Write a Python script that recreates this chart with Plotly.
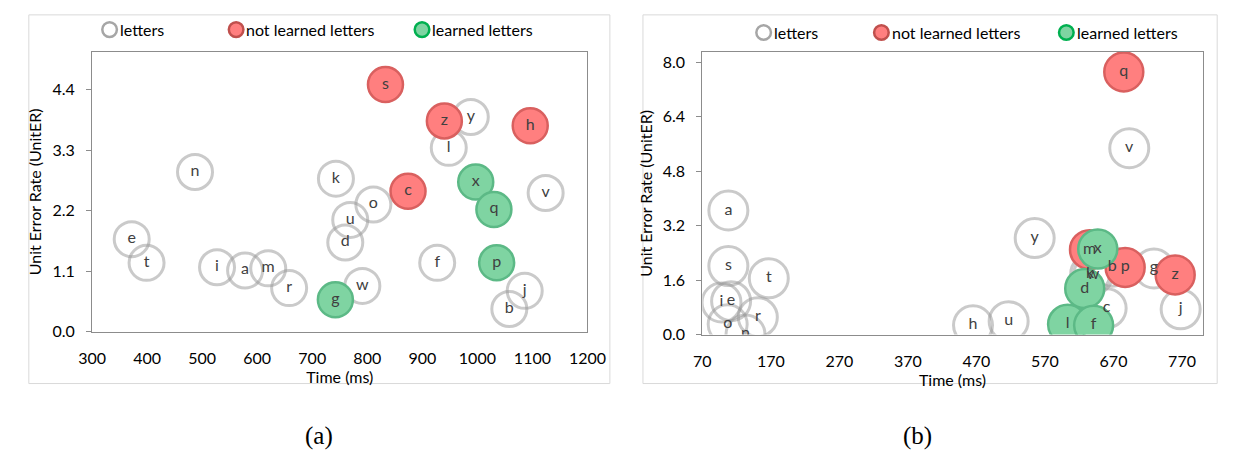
import plotly.graph_objects as go

W, H = 1235, 462

# ---------------- data: chart (a) ----------------
a_letters = ["y", "l", "n", "k", "v", "o", "u", "d", "e", "t", "i", "a", "m", "f", "r", "w", "j", "b"]
a_letters_x = [988, 948, 487, 743, 1124, 811, 769, 760, 372, 399, 527, 578, 620, 927, 658, 791, 1086, 1058]
a_letters_y = [3.90, 3.34, 2.90, 2.78, 2.52, 2.31, 2.03, 1.62, 1.68, 1.25, 1.17, 1.11, 1.15, 1.25, 0.79, 0.83, 0.74, 0.41]

a_notlearned = ["s", "z", "h", "c"]
a_notlearned_x = [833, 940, 1096, 874]
a_notlearned_y = [4.49, 3.83, 3.74, 2.55]

a_learned = ["x", "q", "p", "g"]
a_learned_x = [997, 1030, 1035, 742]
a_learned_y = [2.72, 2.22, 1.25, 0.58]

# ---------------- data: chart (b) ----------------
b_letters = ["v", "a", "y", "s", "t", "b", "g", "k", "w", "c", "j", "i", "e", "o", "r", "n", "h", "u"]
b_letters_x = [693, 108, 555, 108, 167, 668, 729, 636, 640, 660, 768, 98, 112, 107, 151, 133, 465, 517]
b_letters_y = [5.47, 3.64, 2.83, 2.01, 1.65, 1.99, 1.94, 1.78, 1.74, 0.77, 0.74, 0.94, 0.98, 0.30, 0.51, 0.0, 0.27, 0.39]

b_notlearned = ["q", "m", "p", "z"]
b_notlearned_x = [685, 635, 687, 760]
b_notlearned_y = [7.71, 2.49, 1.97, 1.75]

b_learned = ["x", "d", "l", "f"]
b_learned_x = [647, 628, 603, 641]
b_learned_y = [2.51, 1.35, 0.30, 0.27]

series_names = ["letters", "not learned letters", "learned letters"]
a_yticks = [0.0, 1.1, 2.2, 3.3, 4.4]
b_yticks = [0.0, 1.6, 3.2, 4.8, 6.4, 8.0]
a_xticks = [300, 400, 500, 600, 700, 800, 900, 1000, 1100, 1200]
b_xticks = [70, 170, 270, 370, 470, 570, 670, 770]

# ---------------- styles ----------------
FONT = "Lato"
TXT = "#404040"
GRAY_LINE = "rgba(150,150,150,0.5)"
RED_FILL = "#ff7f7f"
RED_LINE = "#d9605f"
GREEN_FILL = "#7fd4a2"
GREEN_LINE = "#5cb986"


def px(x):
    return x / W


def py(y):
    return 1 - y / H


fig = go.Figure()


def add_chart(xa, ya, lx, ly, ll, nx, ny, nl, gx, gy, gl, size):
    fig.add_trace(go.Scatter(x=lx, y=ly, mode="markers", xaxis=xa, yaxis=ya,
                             marker=dict(size=size, color="rgba(0,0,0,0)",
                                         line=dict(color=GRAY_LINE, width=3)),
                             showlegend=False, hoverinfo="skip"))
    fig.add_trace(go.Scatter(x=nx, y=ny, mode="markers", xaxis=xa, yaxis=ya,
                             marker=dict(size=size, color=RED_FILL,
                                         line=dict(color=RED_LINE, width=2.5)),
                             showlegend=False, hoverinfo="skip"))
    fig.add_trace(go.Scatter(x=gx, y=gy, mode="markers", xaxis=xa, yaxis=ya,
                             marker=dict(size=size, color=GREEN_FILL,
                                         line=dict(color=GREEN_LINE, width=2.5)),
                             showlegend=False, hoverinfo="skip"))
    fig.add_trace(go.Scatter(x=lx + nx + gx, y=ly + ny + gy, text=ll + nl + gl,
                             mode="text", textposition="middle center",
                             textfont=dict(family=FONT, size=16, color=TXT),
                             xaxis=xa, yaxis=ya, showlegend=False, hoverinfo="skip"))


add_chart("x", "y", a_letters_x, a_letters_y, a_letters,
          a_notlearned_x, a_notlearned_y, a_notlearned,
          a_learned_x, a_learned_y, a_learned, 35)
add_chart("x2", "y2", b_letters_x, b_letters_y, b_letters,
          b_notlearned_x, b_notlearned_y, b_notlearned,
          b_learned_x, b_learned_y, b_learned, 39)

axis_common = dict(showline=True, linecolor="#8c8c8c", linewidth=1, mirror=True,
                   showgrid=False, zeroline=False,
                   tickfont=dict(family=FONT, size=16, color="#000000"),
                   title_font=dict(family=FONT, size=16, color="#000000"))

xcommon = dict(ticks="outside", ticklen=4, tickcolor="rgba(0,0,0,0)", ticklabelstandoff=8)
ycommon = dict(ticks="outside", ticklen=5, tickcolor="#8c8c8c", ticklabelstandoff=8)

fig.update_layout(
    width=W, height=H,
    margin=dict(l=0, r=0, t=0, b=0),
    paper_bgcolor="white", plot_bgcolor="white",
    xaxis=dict(domain=[px(72), px(581)], range=[300, 1200], tickvals=a_xticks,
               title=dict(text="Time (ms)", standoff=6), anchor="y", **xcommon, **axis_common),
    yaxis=dict(domain=[py(330), py(45)], range=[0, 5.08], tickvals=a_yticks,
               ticktext=[f"{v:.1f}" for v in a_yticks],
               title=dict(text="Unit Error Rate (UnitER)", standoff=6),
               anchor="x", **ycommon, **axis_common),
    xaxis2=dict(domain=[px(699), px(1213)], range=[70, 800], tickvals=b_xticks,
                title=dict(text="Time (ms)", standoff=4), anchor="y2", **xcommon, **axis_common),
    yaxis2=dict(domain=[py(333), py(45)], range=[0, 8.29], tickvals=b_yticks,
                ticktext=[f"{v:.1f}" for v in b_yticks],
                title=dict(text="Unit Error Rate (UnitER)", standoff=6),
                anchor="x2", **ycommon, **axis_common),
)

shapes = []
annotations = []
# outer panel borders
for x0, x1 in [(7, 604), (638, 1228)]:
    shapes.append(dict(type="rect", xref="paper", yref="paper",
                       x0=px(x0), x1=px(x1), y0=py(383), y1=py(7),
                       line=dict(color="#d9d9d9", width=1), fillcolor="rgba(0,0,0,0)"))

# legends
legend_styles = [
    dict(fill="rgba(0,0,0,0)", line="#a6a6a6"),
    dict(fill=RED_FILL, line="#c0504d"),
    dict(fill=GREEN_FILL, line="#00b050"),
]
r = 7.5
for centers, cy in [([90, 220, 411], 22), ([762, 883, 1073], 25)]:
    for cx, name, st in zip(centers, series_names, legend_styles):
        shapes.append(dict(type="circle", xref="paper", yref="paper",
                           x0=px(cx - r), x1=px(cx + r), y0=py(cy + r), y1=py(cy - r),
                           fillcolor=st["fill"], line=dict(color=st["line"], width=2.5)))
        annotations.append(dict(xref="paper", yref="paper", x=px(cx + r + 1), y=py(cy),
                                text=name, showarrow=False, xanchor="left", yanchor="middle",
                                font=dict(family=FONT, size=16, color="#000000")))

# captions
for cx, t in [(305, "(a)"), (920, "(b)")]:
    annotations.append(dict(xref="paper", yref="paper", x=px(cx), y=py(437), text=t,
                            showarrow=False, xanchor="center", yanchor="middle",
                            font=dict(family="Liberation Serif", size=25, color="#000000")))

fig.update_layout(shapes=shapes, annotations=annotations)
fig.write_html("out.html")
